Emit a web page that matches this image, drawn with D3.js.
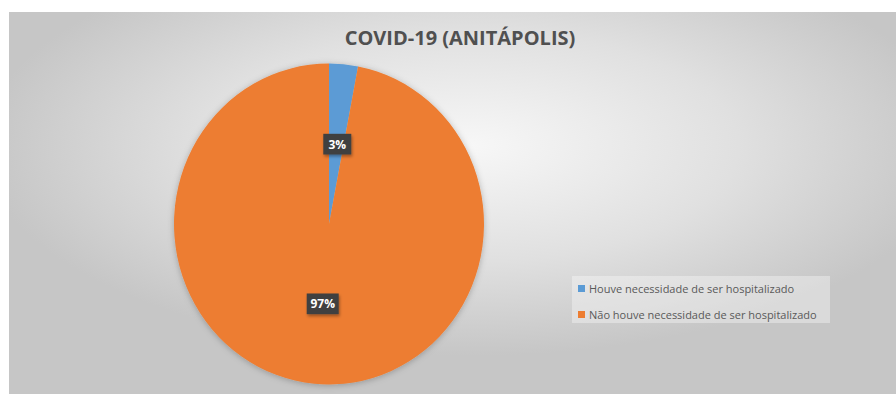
<!DOCTYPE html>
<html>
<head>
<meta charset="utf-8">
<script src="https://cdn.jsdelivr.net/npm/d3@7"></script>
<style>
  body { margin: 0; background: #fff; }
  svg { display: block; }
  .chart-title { font-family: "Open Sans", "Noto Sans", sans-serif; font-weight: 700; font-size: 20px; fill: #505050; }
  .slice-label { font-family: "Open Sans", "Noto Sans", sans-serif; font-weight: 700; font-size: 12px; fill: #fff; }
  .legend-label { font-family: "Open Sans", "Noto Sans", sans-serif; font-size: 11px; fill: #595959; }
</style>
</head>
<body>
<div id="chart"></div>
<script>
const categories = ["Houve necessidade de ser hospitalizado", "Não houve necessidade de ser hospitalizado"];
const values = [3, 97];
const sliceColors = ["#5b9bd5", "#ed7d31"];

function createPieChart() {
    const width = 896;
    const height = 394;

    const svg = d3.select("#chart")
        .append("svg")
        .attr("width", width)
        .attr("height", height);

    const defs = svg.append("defs");

    // grey background, lighter towards the upper middle
    const grad = defs.append("radialGradient")
        .attr("id", "bg")
        .attr("cx", "52%").attr("cy", "35%")
        .attr("r", "55%");
    grad.append("stop").attr("offset", "0%").attr("stop-color", "#f7f7f7");
    grad.append("stop").attr("offset", "55%").attr("stop-color", "#e0e0e0");
    grad.append("stop").attr("offset", "100%").attr("stop-color", "#c6c6c6");

    const shadow = defs.append("filter").attr("id", "shadow")
        .attr("x", "-20%").attr("y", "-20%").attr("width", "140%").attr("height", "140%");
    shadow.append("feDropShadow")
        .attr("dx", 0).attr("dy", 1).attr("stdDeviation", 3)
        .attr("flood-color", "#000").attr("flood-opacity", 0.25);

    const boxShadow = defs.append("filter").attr("id", "boxShadow")
        .attr("x", "-30%").attr("y", "-30%").attr("width", "160%").attr("height", "160%");
    boxShadow.append("feDropShadow")
        .attr("dx", 1).attr("dy", 2).attr("stdDeviation", 1.5)
        .attr("flood-color", "#000").attr("flood-opacity", 0.35);

    svg.append("rect")
        .attr("x", 9).attr("y", 12)
        .attr("width", width - 9).attr("height", height - 12)
        .attr("fill", "url(#bg)");

    svg.append("text")
        .attr("x", 460)
        .attr("y", 45)
        .attr("text-anchor", "middle")
        .attr("class", "chart-title")
        .text("COVID-19 (ANITÁPOLIS)");

    const cx = 329, cy = 224, radius = 155;

    const pie = d3.pie().sort(null).value(d => d);
    const arcs = pie(values);

    const arc = d3.arc().innerRadius(0).outerRadius(radius);
    const labelArc = d3.arc().innerRadius(radius / 2).outerRadius(radius / 2);

    // slightly taller than wide, like the reference
    const g = svg.append("g")
        .attr("transform", `translate(${cx}, ${cy}) scale(1, 1.035)`);

    g.append("g")
        .attr("filter", "url(#shadow)")
        .selectAll("path")
        .data(arcs)
        .enter()
        .append("path")
        .attr("d", arc)
        .attr("fill", (d, i) => sliceColors[i]);

    const labels = g.selectAll(".label")
        .data(arcs)
        .enter()
        .append("g")
        .attr("transform", d => {
            const [x, y] = labelArc.centroid(d);
            return `translate(${x + 1}, ${y})`;
        });

    labels.append("rect")
        .attr("x", (d, i) => i === 0 ? -14 : -16)
        .attr("y", -10)
        .attr("width", (d, i) => i === 0 ? 28 : 32)
        .attr("height", 20)
        .attr("fill", "#404040")
        .attr("filter", "url(#boxShadow)");

    labels.append("text")
        .attr("class", "slice-label")
        .attr("text-anchor", "middle")
        .attr("dy", "0.36em")
        .text(d => d.data + "%");

    // legend
    const legend = svg.append("g")
        .attr("transform", "translate(572, 276)");

    legend.append("rect")
        .attr("width", 258)
        .attr("height", 47)
        .attr("fill", "#ffffff")
        .attr("opacity", 0.35);

    const items = legend.selectAll(".legend-item")
        .data(categories)
        .enter()
        .append("g")
        .attr("transform", (d, i) => `translate(6, ${9 + i * 26})`);

    items.append("rect")
        .attr("width", 7)
        .attr("height", 7)
        .attr("fill", (d, i) => sliceColors[i]);

    items.append("text")
        .attr("x", 11)
        .attr("y", 7.5)
        .attr("class", "legend-label")
        .text(d => d);
}

createPieChart();
</script>
</body>
</html>
